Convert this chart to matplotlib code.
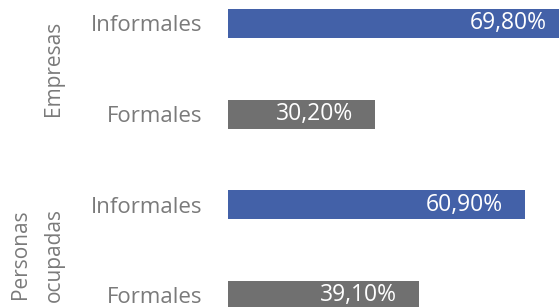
import matplotlib
matplotlib.use("Agg")
import matplotlib.pyplot as plt
import matplotlib.transforms as mtransforms

categories = ["Informales", "Formales", "Informales", "Formales"]
values = [69.8, 30.2, 60.9, 39.1]
labels = ["69,80%", "30,20%", "60,90%", "39,10%"]
groups = ["Empresas", "Personas\nocupadas"]

blue = "#4361a8"
grey = "#707070"
text_grey = "#7a7a7a"
colors = [blue, grey, blue, grey]

plt.rcParams['font.family'] = ['Open Sans', 'DejaVu Sans']

fig = plt.figure(figsize=(5.59, 3.07), dpi=100)
ax = fig.add_axes([228 / 559, 0, 1 - 228 / 559, 1])

ypos = list(range(len(values)))
ax.barh(ypos, values, height=0.32, color=colors)

ax.set_xlim(0, 67.8)
ax.set_ylim(3.127, -0.258)

ax.set_yticks(ypos)
ax.set_yticklabels(categories, fontsize=16, color=text_grey)
ax.tick_params(axis='y', length=0, pad=18.5)
ax.set_xticks([])
for s in ax.spines.values():
    s.set_visible(False)

for y, v, lab in zip(ypos, values, labels):
    ax.text(v - 4.5, y, lab, ha='right', va='center', color='white',
            fontsize=16.5)

trans = mtransforms.blended_transform_factory(fig.transFigure, ax.transData)
ax.text(53 / 559, 0.5, groups[0], rotation=90, ha='center', va='center',
        color=text_grey, fontsize=15, transform=trans, clip_on=False)
ax.text(37 / 559, 2.55, groups[1], rotation=90, ha='center', va='center',
        color=text_grey, fontsize=15, transform=trans, clip_on=False,
        multialignment='center', linespacing=1.8)

fig.savefig("out.png", dpi=100)
